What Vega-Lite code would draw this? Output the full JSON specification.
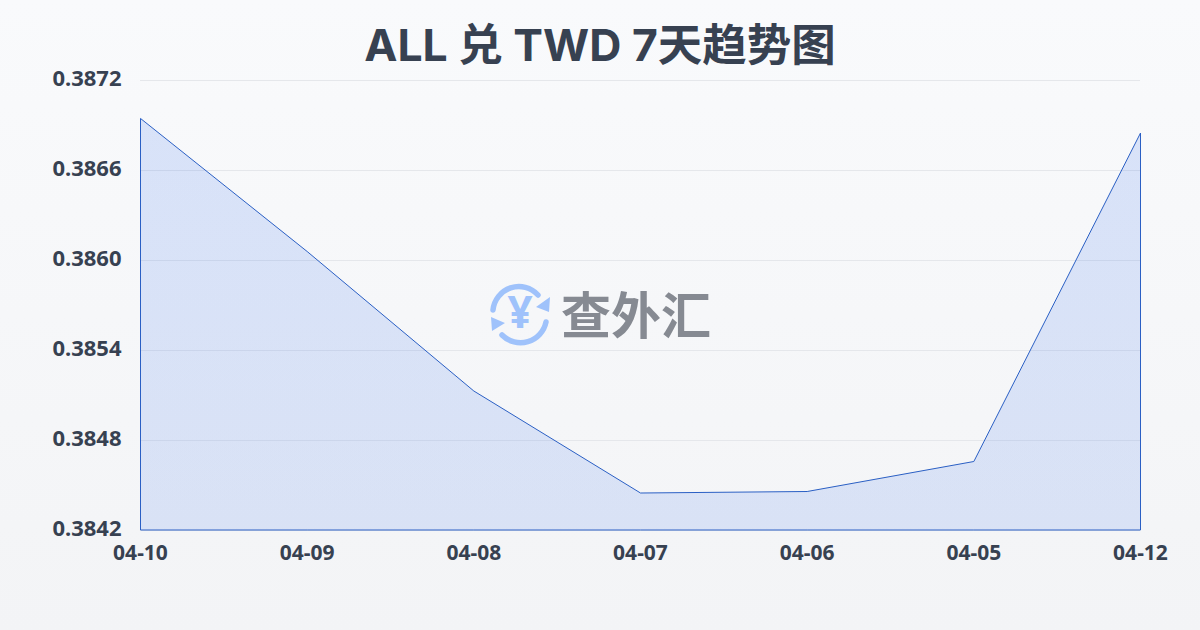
{
  "$schema": "https://vega.github.io/schema/vega-lite/v6.json",
  "width": 1000,
  "height": 450,
  "autosize": "none",
  "padding": {"left": 140, "top": 80, "right": 60, "bottom": 100},
  "background": "#f6f7f9",
  "title": {"text": "ALL 兑 TWD 7天趋势图", "font": "Inter, 'Noto Sans CJK SC'", "fontSize": 44.5, "fontWeight": "bold", "color": "#374151", "anchor": "middle", "dx": -40, "offset": -105, "baseline": "alphabetic"},
  "datasets": {
    "rates": [
      {"date": "04-10", "rate": 0.386947},
      {"date": "04-09", "rate": 0.38606},
      {"date": "04-08", "rate": 0.38513},
      {"date": "04-07", "rate": 0.38445},
      {"date": "04-06", "rate": 0.38446},
      {"date": "04-05", "rate": 0.38466},
      {"date": "04-12", "rate": 0.38685}
    ],
    "grid": [{"v": 0.3842}, {"v": 0.3848}, {"v": 0.3854}, {"v": 0.386}, {"v": 0.3866}, {"v": 0.3872}]
  },
  "layer": [
    {
      "data": {"values": [{"k": 1}]},
      "mark": {"type": "rect", "clip": false, "fill": {"gradient": "linear", "x1": 0, "y1": 0, "x2": 0, "y2": 1, "stops": [{"offset": 0, "color": "#f9fafc"}, {"offset": 1, "color": "#f3f4f6"}]}},
      "encoding": {"x": {"value": -140}, "x2": {"value": 1060}, "y": {"value": -80}, "y2": {"value": 550}}
    },
    {
      "data": {"name": "grid"},
      "mark": {"type": "rule", "color": "#e5e7eb", "strokeWidth": 1, "yOffset": 0.5},
      "encoding": {"y": {"field": "v", "type": "quantitative", "scale": {"domain": [0.3842, 0.3872], "zero": false}, "axis": {"title": null, "values": [0.3842, 0.3848, 0.3854, 0.386, 0.3866, 0.3872], "format": ".4f", "domain": false, "ticks": false, "grid": false, "labelFont": "Noto Sans", "labelFontWeight": "bold", "labelFontSize": 22, "labelColor": "#374151", "labelPadding": 19, "labelOffset": -2, "zindex": 1}}}
    },
    {
      "data": {"name": "rates"},
      "mark": {"type": "area", "stroke": "#2a5fc4", "strokeWidth": 1, "xOffset": 0.5, "yOffset": 0.5, "fill": {"gradient": "linear", "x1": 0, "y1": 0, "x2": 0, "y2": 1, "stops": [{"offset": 0, "color": "rgba(37,99,235,0.15)"}, {"offset": 1, "color": "rgba(37,99,235,0.13)"}]}},
      "encoding": {
        "x": {"field": "date", "type": "ordinal", "sort": null, "scale": {"type": "point", "padding": 0}, "axis": {"title": null, "domain": false, "ticks": false, "grid": false, "labelAngle": 0, "labelFont": "Noto Sans", "labelFontWeight": "bold", "labelFontSize": 21, "labelColor": "#374151", "labelPadding": 12, "zindex": 1}},
        "y": {"field": "rate", "type": "quantitative"},
        "y2": {"datum": 0.3842}
      }
    },
    {
      "data": {"values": [{"k": 1}]},
      "mark": {"type": "point", "clip": false, "filled": false, "size": 4, "opacity": 1, "stroke": "#9fc2fb", "strokeWidth": 5.5, "strokeCap": "round", "shape": "M -27 -5 A 26 26 0 0 1 18 -20 M 26 7 A 26 26 0 0 1 -18 20"},
      "encoding": {"x": {"value": 380}, "y": {"value": 235}}
    },
    {
      "data": {"values": [{"k": 1}]},
      "mark": {"type": "point", "clip": false, "filled": true, "size": 4, "fill": "#9fc2fb", "opacity": 1, "shape": "M 30 -18 L 29 -3 L 16 -8 Z M -29 2 L -28 16 L -15 8 Z"},
      "encoding": {"x": {"value": 380}, "y": {"value": 235}}
    },
    {
      "data": {"values": [{"k": 1}]},
      "mark": {"type": "text", "clip": false, "text": "¥", "font": "Noto Sans", "fontWeight": "bold", "fontSize": 44, "color": "#9fc2fb", "align": "center", "baseline": "middle"},
      "encoding": {"x": {"value": 380}, "y": {"value": 235}}
    },
    {
      "data": {"values": [{"k": 1}]},
      "mark": {"type": "text", "clip": false, "text": "查外汇", "font": "Noto Sans CJK SC", "fontWeight": "bold", "fontSize": 50, "color": "#868a92", "align": "center", "baseline": "middle"},
      "encoding": {"x": {"value": 496}, "y": {"value": 239}}
    }
  ]
}
